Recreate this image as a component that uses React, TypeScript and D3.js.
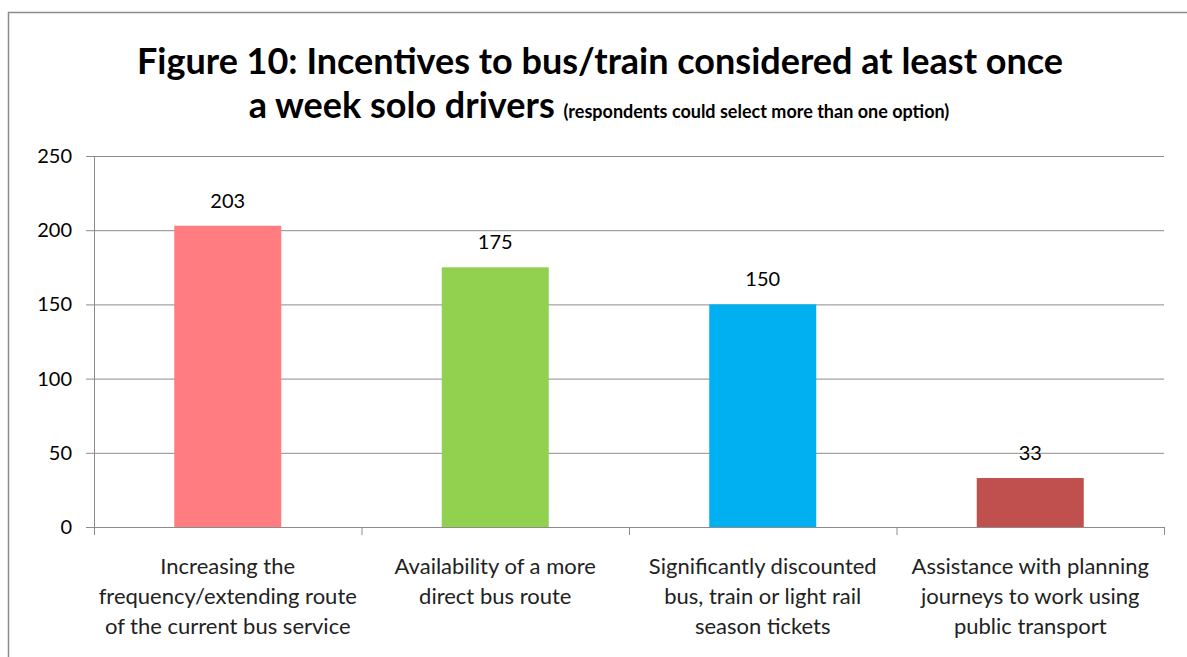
import React from "react";
import * as d3 from "d3";

const categories = [
  ["Increasing the", "frequency/extending route", "of the current bus service"],
  ["Availability of a more", "direct bus route"],
  ["Significantly discounted", "bus, train or light rail", "season tickets"],
  ["Assistance with planning", "journeys to work using", "public transport"],
];
const values = [203, 175, 150, 33];
const colors = ["#FF7C80", "#92D050", "#00B0F0", "#C0504D"];
const yTicks = [0, 50, 100, 150, 200, 250];

const W = 1187;
const H = 657;
const font = "Lato, 'Open Sans', sans-serif";

export default function App() {
  const left = 94;
  const right = 1164;
  const top = 156;
  const bottom = 527;

  const x = d3
    .scaleBand<number>()
    .domain(d3.range(values.length))
    .range([left, right])
    .paddingInner(0.6)
    .paddingOuter(0.3);
  const y = d3.scaleLinear().domain([0, 250]).range([bottom, top]);
  const step = x.step();

  return (
    <svg width={W} height={H} style={{ position: "absolute", left: 0, top: 0 }} fontFamily={font}>
      <rect x={0} y={0} width={W} height={H} fill="#fff" />
      <rect x={8.5} y={12.5} width={W + 20} height={H + 20} fill="none" stroke="#8c8c8c" strokeWidth={1.5} />

      <text x={600} y={74} textAnchor="middle" fontSize={36} fontWeight="bold" fill="#000">
        Figure 10: Incentives to bus/train considered at least once
      </text>
      <text x={599} y={118} textAnchor="middle" fontWeight="bold" fill="#000">
        <tspan fontSize={36}>a week solo drivers </tspan>
        <tspan fontSize={18}>(respondents could select more than one option)</tspan>
      </text>

      {yTicks.map((t) => (
        <g key={t}>
          <line x1={left - 8} x2={right} y1={y(t) + 0.5} y2={y(t) + 0.5} stroke="#8c8c8c" strokeWidth={1} />
          <text x={72} y={y(t)} dy="0.35em" textAnchor="end" fontSize={20} fill="#000">
            {t}
          </text>
        </g>
      ))}
      <line x1={left + 0.5} x2={left + 0.5} y1={top} y2={bottom + 8} stroke="#8c8c8c" />
      {d3.range(values.length + 1).map((i) => {
        const xx = left + i * step;
        return <line key={i} x1={xx + 0.5} x2={xx + 0.5} y1={bottom} y2={bottom + 8} stroke="#8c8c8c" />;
      })}

      {values.map((v, i) => (
        <g key={i}>
          <rect x={x(i)} y={y(v)} width={x.bandwidth()} height={bottom - y(v)} fill={colors[i]} />
          <text x={x(i)! + x.bandwidth() / 2} y={y(v) - 18} textAnchor="middle" fontSize={20} fill="#000">
            {v}
          </text>
        </g>
      ))}

      {categories.map((lines, i) => (
        <text key={i} x={x(i)! + x.bandwidth() / 2} textAnchor="middle" fontSize={22} fill="#222">
          {lines.map((l, j) => (
            <tspan key={j} x={x(i)! + x.bandwidth() / 2} y={574 + j * 30}>
              {l}
            </tspan>
          ))}
        </text>
      ))}
    </svg>
  );
}
